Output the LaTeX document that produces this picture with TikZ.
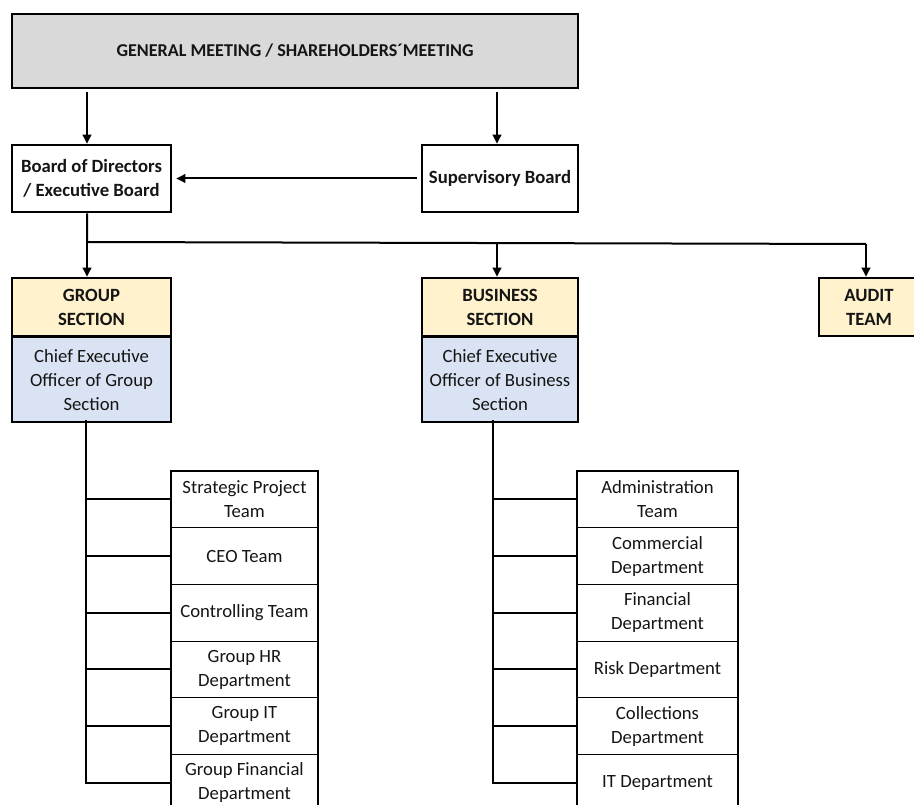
\documentclass[tikz,border=0pt]{standalone}
\usepackage{fontspec}
\setmainfont{Carlito}
\usetikzlibrary{arrows.meta}
\definecolor{gmgray}{HTML}{D9D9D9}
\definecolor{secyel}{HTML}{FFF2CC}
\definecolor{ceoblue}{HTML}{DAE3F3}
\definecolor{txt}{HTML}{151515}
\tikzset{
  boxbase/.style={draw=black, inner sep=0pt, align=center, text=txt, font=\fontsize{18.7}{24}\selectfont},
  thickbox/.style={boxbase, line width=2.6pt, font=\fontsize{18.7}{24}\selectfont\bfseries},
  secbox/.style={thickbox, fill=secyel},
  ceobox/.style={boxbase, line width=1.2pt, fill=ceoblue},
  unitbox/.style={boxbase, line width=1.1pt, fill=white},
  conn/.style={line width=2pt, draw=black},
  arr/.style={conn, -{Triangle[length=9pt,width=8.5pt]}},
}
\begin{document}
\begin{tikzpicture}[x=1pt,y=-1pt]
\useasboundingbox (0,0) rectangle (914,805);
% top
\node[thickbox, fill=gmgray, minimum width=566pt, minimum height=74pt, font=\fontsize{18.1}{24}\selectfont\bfseries] (gm) at (295,51) {GENERAL MEETING / SHAREHOLDERS´MEETING};
\node[thickbox, minimum width=159pt, minimum height=67pt] (bod) at (91.5,178.5) {Board of Directors\\/ Executive Board};
\node[thickbox, minimum width=156pt, minimum height=67pt] (sup) at (500,178.5) {Supervisory Board};
% sections
\node[secbox, minimum width=159pt, minimum height=58pt] (gs) at (91.5,307) {GROUP\\SECTION};
\node[ceobox, anchor=north, minimum width=159pt, minimum height=84pt] (gceo) at (gs.south) {Chief Executive\\Officer of Group\\Section};
\node[secbox, minimum width=156pt, minimum height=58pt] (bs) at (500,307) {BUSINESS\\SECTION};
\node[ceobox, anchor=north, minimum width=156pt, minimum height=84pt] (bceo) at (bs.south) {Chief Executive\\Officer of Business\\Section};
\node[secbox, minimum width=100pt, minimum height=58pt] (audit) at (869,307) {AUDIT\\TEAM};
% group units
\foreach \n/\t [count=\i from 0] in {g1/{Strategic Project\\Team}, g2/{CEO Team}, g3/{Controlling Team}, g4/{Group HR\\Department}, g5/{Group IT\\Department}, g6/{Group Financial\\Department}}{
  \node[unitbox, minimum width=147pt, minimum height=56.7pt] (\n) at (244.5,{499.35+56.7*\i}) {\t};
}
\foreach \n/\t [count=\i from 0] in {b1/{Administration\\Team}, b2/{Commercial\\Department}, b3/{Financial\\Department}, b4/{Risk Department}, b5/{Collections\\Department}, b6/{IT Department}}{
  \node[unitbox, minimum width=161pt, minimum height=56.7pt] (\n) at (657.5,{499.35+56.7*\i}) {\t};
}
% connectors top
\coordinate (gma) at (87,92);
\coordinate (gmb) at (497,92);
\draw[arr] (gma) -- (gma |- bod.north);
\draw[arr] (gmb) -- (gmb |- sup.north);
\draw[arr] ([xshift=-4pt]sup.west) -- ([xshift=4pt]bod.east);
% bus
\coordinate (j1) at (87,242);
\coordinate (j2) at (497,242.7);
\coordinate (j3) at (866,244);
\draw[conn] (j1 |- bod.south) -- (j1) -- (j3);
\draw[arr] (j1) -- (j1 |- gs.north);
\draw[arr] (j2) -- (j2 |- bs.north);
\draw[arr] (j3) -- (j3 |- audit.north);
% trunks
\coordinate (tg) at (86,420);
\coordinate (tb) at (493,420);
\draw[conn] (tg) -- (tg |- g6.west) -- (g6.west);
\foreach \n in {g1,g2,g3,g4,g5}{ \draw[conn] (tg |- \n.west) -- (\n.west); }
\draw[conn] (tb) -- (tb |- b6.west) -- (b6.west);
\foreach \n in {b1,b2,b3,b4,b5}{ \draw[conn] (tb |- \n.west) -- (\n.west); }
\end{tikzpicture}
\end{document}
